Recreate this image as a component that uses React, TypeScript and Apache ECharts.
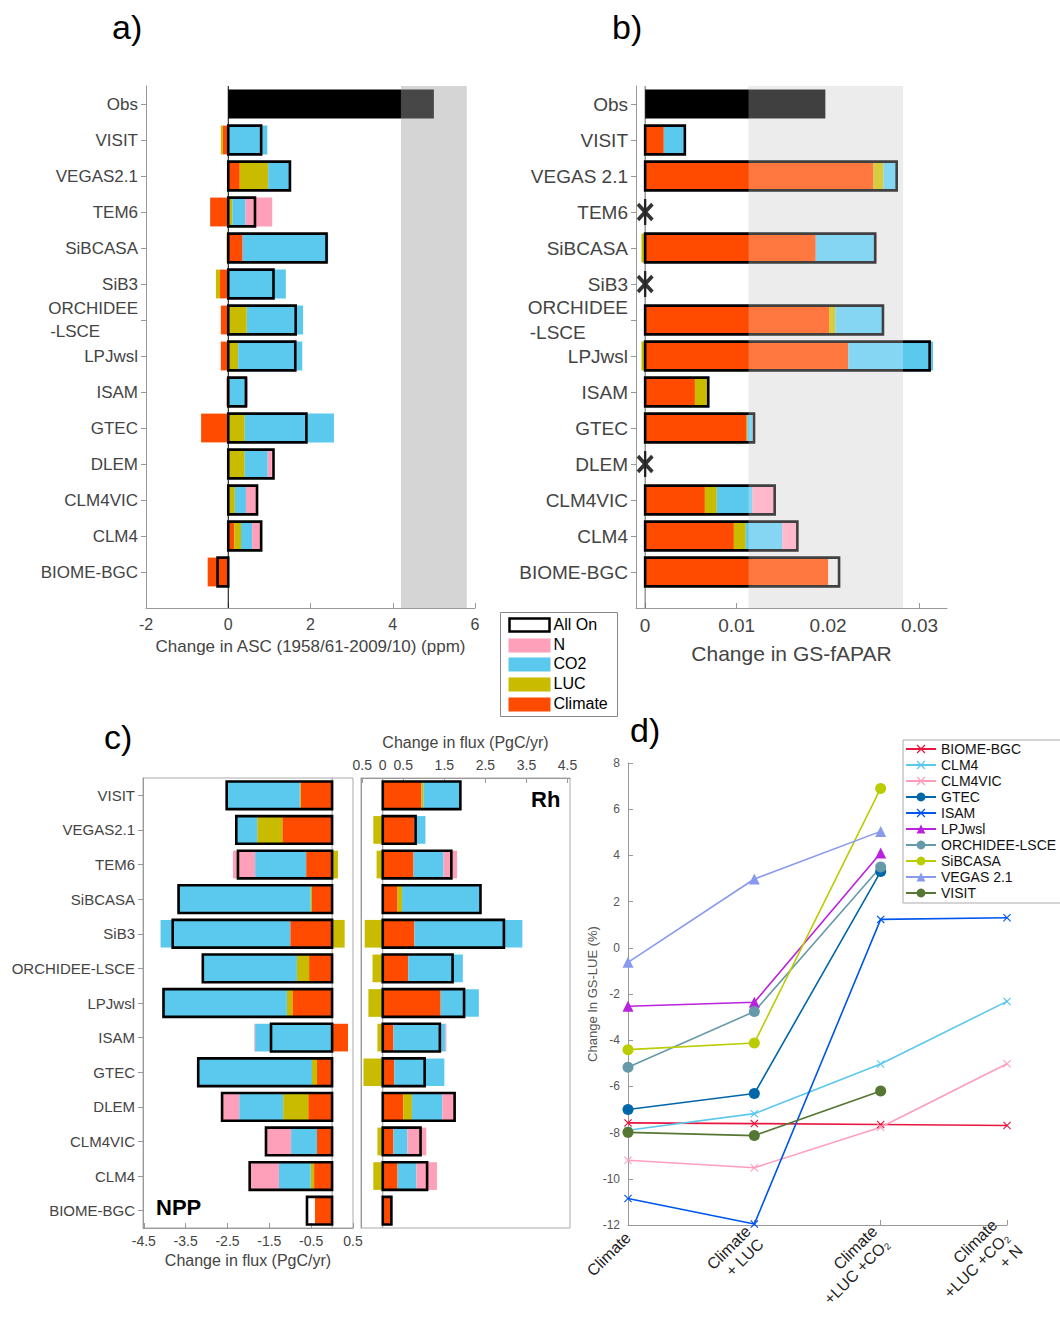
import React, { useEffect, useRef } from 'react';
import * as echarts from 'echarts';

const labelsA = ['Obs', 'VISIT', 'VEGAS2.1', 'TEM6', 'SiBCASA', 'SiB3', 'ORCHIDEE\n-LSCE        ', 'LPJwsl', 'ISAM', 'GTEC', 'DLEM', 'CLM4VIC', 'CLM4', 'BIOME-BGC'];
const labelsB = ['Obs', 'VISIT', 'VEGAS 2.1', 'TEM6', 'SiBCASA', 'SiB3', 'ORCHIDEE\n-LSCE        ', 'LPJwsl', 'ISAM', 'GTEC', 'DLEM', 'CLM4VIC', 'CLM4', 'BIOME-BGC'];
const labelsC = ['VISIT', 'VEGAS2.1', 'TEM6', 'SiBCASA', 'SiB3', 'ORCHIDEE-LSCE', 'LPJwsl', 'ISAM', 'GTEC', 'DLEM', 'CLM4VIC', 'CLM4', 'BIOME-BGC'];

// a) ASC (ppm)
const obsA = 5.0;
const bandA = [4.2, 5.8];
const climateA = [-0.13, 0.28, -0.44, 0.35, -0.2, -0.18, -0.18, -0.04, -0.66, -0.02, 0, 0.15, -0.5];
const lucA = [-0.05, 0.69, 0.1, -0.04, -0.1, 0.45, 0.24, 0, 0.4, 0.4, 0.16, 0.16, 0];
const co2A = [0.95, 0.52, 0.32, 2.08, 1.4, 1.37, 1.56, 0.45, 2.17, 0.56, 0.27, 0.27, 0];
const nA = [0, 0, 0.65, 0, 0, 0, 0, 0.03, 0, 0.1, 0.26, 0.23, 0];
const allOnA = [0.8, 1.5, 0.65, 2.39, 1.1, 1.64, 1.63, 0.43, 1.9, 1.1, 0.7, 0.8, -0.26];

// b) GS-fAPAR
const obsB = 0.0197;
const bandB = [0.0113, 0.0282];
const climateB = [0.00204, 0.02496, null, 0.01865, null, 0.0201, 0.0222, 0.00544, 0.0111, null, 0.00653, 0.0097, 0.02];
const lucB = [0, 0.0011, null, -0.0004, null, 0.0007, -0.0004, 0.00135, 0.0001, null, 0.0013, 0.0013, 0];
const co2B = [0.00219, 0.00139, null, 0.00639, null, 0.0051, 0.00927, 0, 0.0005, null, 0.0039, 0.004, 0];
const nB = [0, 0, null, 0.0003, null, 0, 0, 0, 0, null, 0.00234, 0.00153, 0];
const allOnB = [0.00434, 0.0275, null, 0.02515, null, 0.026, 0.0311, 0.0069, 0.0119, null, 0.01416, 0.01664, 0.0212];

// c) NPP and Rh (PgC/yr)
const climateNpp = [-0.75, -1.19, -0.62, -0.48, -1.0, -0.55, -0.95, 0.38, -0.36, -0.57, -0.36, -0.43, -0.41];
const lucNpp = [-0.02, -0.6, 0.14, -0.03, 0.3, -0.29, -0.13, 0, -0.12, -0.6, 0, -0.08, 0];
const co2Npp = [-1.75, -0.5, -1.22, -3.16, -3.1, -2.25, -2.97, -1.84, -2.72, -1.05, -0.62, -0.76, 0];
const nNpp = [0, 0, -0.53, 0, 0, 0, 0, -0.02, 0, -0.4, -0.6, -0.69, 0];
const allOnNpp = [-2.52, -2.29, -2.25, -3.67, -3.81, -3.09, -4.03, -1.46, -3.2, -2.63, -1.58, -1.97, -0.6];
const climateRh = [0.94, 0.76, 0.75, 0.36, 0.77, 0.62, 1.41, 0.26, 0.28, 0.5, 0.26, 0.36, 0.2];
const lucRh = [0.05, -0.23, -0.15, 0.11, -0.44, -0.25, -0.35, -0.13, -0.47, 0.21, -0.13, -0.23, 0];
const co2Rh = [0.9, 0.28, 0.73, 1.91, 2.63, 1.33, 0.93, 1.27, 1.22, 0.74, 0.34, 0.46, 0];
const nRh = [0, 0, 0.33, 0, 0, 0, 0, 0.02, 0, 0.29, 0.46, 0.5, 0];
const allOnRh = [1.89, 0.8, 1.67, 2.38, 2.95, 1.7, 1.98, 1.39, 1.02, 1.75, 0.92, 1.08, 0.21];

// d) GS-LUE (%)
const stepsD = ['Climate', 'Climate\n+ LUC', 'Climate\n+LUC +CO₂', 'Climate\n+LUC +CO₂\n+ N'];
const modelsD = ['BIOME-BGC', 'CLM4', 'CLM4VIC', 'GTEC', 'ISAM', 'LPJwsl', 'ORCHIDEE-LSCE', 'SiBCASA', 'VEGAS 2.1', 'VISIT'];
const lueD = [
  [-7.58, -7.61, -7.65, -7.69],
  [-7.9, -7.18, -5.03, -2.32],
  [-9.2, -9.52, -7.77, -5.02],
  [-7.0, -6.31, 3.3, null],
  [-10.85, -11.96, 1.23, 1.3],
  [-2.53, -2.36, 4.1, null],
  [-5.17, -2.76, 3.5, null],
  [-4.41, -4.12, 6.9, null],
  [-0.63, 2.98, 5.04, null],
  [-7.99, -8.13, -6.2, null],
];
const colorsD = ['#e8173f', '#5bc8ee', '#ff9ebb', '#0066aa', '#0055ee', '#bb22dd', '#6699aa', '#bbcc00', '#8899ee', '#557733'];

const CROSS = 'path://M0,1L1,0L5,4L9,0L10,1L6,5L10,9L9,10L5,6L1,10L0,9L4,5Z';
const STAR = 'path://M0,3.5L1.5,2L5,5.5L8.5,2L10,3.5L6.5,7L10,10.5L8.5,12L5,8.5L1.5,12L0,10.5L3.5,7ZM4.3,0H5.7V14H4.3Z';
const symD = ['cross', 'cross', 'cross', 'circle', 'cross', 'triangle', 'circle', 'circle', 'triangle', 'circle'];

const FILL = ['#ff4b00', '#c8bb00', '#5bc8ee', '#ffa0bb', '#000000', '#474747'];
const FONT = 'Liberation Sans';

// stack climate, luc, co2, n: positive parts to the right, negative to the left
function segments(parts: (number | null)[][], rowOffset: number) {
  const out: number[][] = [];
  parts[0].forEach((_, i) => {
    let pos = 0;
    let neg = 0;
    parts.forEach((arr, k) => {
      const v = arr[i];
      if (v == null || v === 0) return;
      if (v > 0) { out.push([pos, pos + v, i + rowOffset, k]); pos += v; }
      else { out.push([neg, neg + v, i + rowOffset, k]); neg += v; }
    });
  });
  return out;
}

const barRender = (frac: number) => (params: any, api: any) => {
  const s = api.coord([api.value(0), api.value(2)]);
  const e = api.coord([api.value(1), api.value(2)]);
  const h = api.size([0, 1])[1] * frac;
  return {
    type: 'rect',
    shape: { x: Math.min(s[0], e[0]), y: s[1] - h / 2, width: Math.abs(e[0] - s[0]), height: h },
    style: { fill: FILL[api.value(3)] },
  };
};

const outlineRender = (frac: number) => (params: any, api: any) => {
  const s = api.coord([0, api.value(1)]);
  const e = api.coord([api.value(0), api.value(1)]);
  const h = api.size([0, 1])[1] * frac;
  return {
    type: 'rect',
    shape: { x: Math.min(s[0], e[0]), y: s[1] - h / 2, width: Math.abs(e[0] - s[0]), height: h },
    style: { fill: 'none', stroke: '#000', lineWidth: 2.6 },
  };
};

const bandRender = (color: string, zeroColor: string | null) => (params: any, api: any) => {
  const cs = params.coordSys;
  const x0 = api.coord([api.value(0), 0])[0];
  const x1 = api.coord([api.value(1), 0])[0];
  const children: any[] = [];
  if (x1 > x0) children.push({ type: 'rect', shape: { x: x0, y: cs.y, width: x1 - x0, height: cs.height }, style: { fill: color } });
  if (zeroColor) {
    const z = api.coord([0, 0])[0];
    children.push({ type: 'line', shape: { x1: z, y1: cs.y, x2: z, y2: cs.y + cs.height }, style: { stroke: zeroColor, lineWidth: 1 } });
  }
  return { type: 'group', children };
};

const App: React.FC = () => {
  const chartRef = useRef<HTMLDivElement>(null);

  useEffect(() => {
    if (!chartRef.current) return;
    const chart = echarts.init(chartRef.current, null, { renderer: 'svg' });

    const rowsAB = labelsA.map((_, i) => i);
    const rowsC = labelsC.map((_, i) => i);
    const segA = segments([climateA, lucA, co2A, nA], 1);
    segA.push([0, bandA[0], 0, 4], [bandA[0], obsA, 0, 5]);
    const segB = segments([climateB, lucB, co2B, nB], 1);
    segB.push([0, obsB, 0, 4]);
    const segNpp = segments([climateNpp, lucNpp, co2Npp, nNpp], 0);
    const segRh = segments([climateRh, lucRh, co2Rh, nRh], 0);
    const outline = (arr: (number | null)[], off: number) =>
      arr.map((v, i) => [v, i + off]).filter((d) => d[0] != null);
    const stars = allOnB.map((v, i) => [0, i + 1, v]).filter((d) => d[2] == null).map((d) => [d[0], d[1]]);

    const axisGray = { onZero: false, lineStyle: { color: '#999' } };
    const catAxis = (grid: number, labels: string[], rows: number[], max: number, size: number) => ({
      type: 'value', gridIndex: grid, inverse: true, min: -0.5, max,
      axisLine: { show: true, ...axisGray },
      splitLine: { show: false },
      axisTick: { show: true, customValues: rows, length: 5, lineStyle: { color: '#999' } },
      axisLabel: {
        customValues: rows, formatter: (v: number) => labels[Math.round(v)],
        fontFamily: FONT, fontSize: size, color: '#444', margin: 8, lineHeight: size + 6,
      },
    });

    const option: any = {
      animation: false,
      textStyle: { fontFamily: FONT },
      grid: [
        { left: 146, top: 86, width: 329, height: 522 },
        { left: 636, top: 86, width: 311, height: 522 },
        { left: 143, top: 778, width: 210, height: 450, show: true, borderColor: '#aaa', borderWidth: 1 },
        { left: 361, top: 778, width: 209, height: 450, show: true, borderColor: '#aaa', borderWidth: 1 },
        { left: 628, top: 763, width: 379, height: 462 },
      ],
      xAxis: [
        {
          type: 'value', gridIndex: 0, min: -2, max: 6, interval: 2, splitLine: { show: false },
          axisLine: axisGray, axisTick: { show: true, inside: true, lineStyle: { color: '#999' } },
          axisLabel: { fontSize: 16, color: '#444', margin: 8 },
          name: 'Change in ASC (1958/61-2009/10) (ppm)', nameLocation: 'middle', nameGap: 30,
          nameTextStyle: { fontSize: 17, color: '#444' },
        },
        {
          type: 'value', gridIndex: 1, min: -0.001, max: 0.033, splitLine: { show: false },
          axisLine: axisGray,
          axisTick: { show: true, inside: true, customValues: [0, 0.01, 0.02, 0.03], lineStyle: { color: '#999' } },
          axisLabel: { customValues: [0, 0.01, 0.02, 0.03], formatter: (v: number) => (v === 0 ? '0' : v.toFixed(2)), fontSize: 19, color: '#444', margin: 8 },
          name: 'Change in GS-fAPAR', nameLocation: 'middle', nameGap: 35,
          nameTextStyle: { fontSize: 21, color: '#444' },
        },
        {
          type: 'value', gridIndex: 2, min: -4.52, max: 0.5, splitLine: { show: false },
          axisLine: axisGray,
          axisTick: { show: true, inside: true, customValues: [-4.5, -3.5, -2.5, -1.5, -0.5, 0.5], lineStyle: { color: '#999' } },
          axisLabel: { customValues: [-4.5, -3.5, -2.5, -1.5, -0.5, 0.5], fontSize: 14, color: '#444', margin: 6 },
          name: 'Change in flux (PgC/yr)', nameLocation: 'middle', nameGap: 24,
          nameTextStyle: { fontSize: 16, color: '#444' },
        },
        {
          type: 'value', gridIndex: 3, position: 'top', min: -0.53, max: 4.56, splitLine: { show: false },
          axisLine: axisGray,
          axisTick: { show: true, inside: true, customValues: [-0.5, 0.5, 1.5, 2.5, 3.5, 4.5], lineStyle: { color: '#999' } },
          axisLabel: {
            customValues: [-0.5, 0, 0.5, 1.5, 2.5, 3.5, 4.5], formatter: (v: number) => String(Math.abs(v)),
            fontSize: 14, color: '#444', margin: 6,
          },
          name: 'Change in flux (PgC/yr)', nameLocation: 'middle', nameGap: 28,
          nameTextStyle: { fontSize: 16, color: '#444' },
        },
        {
          type: 'category', gridIndex: 4, data: stepsD, boundaryGap: false,
          axisLine: axisGray, axisTick: { inside: true, lineStyle: { color: '#999' } },
          axisLabel: { rotate: 45, fontSize: 16, color: '#222', lineHeight: 18, margin: 10 },
        },
      ],
      yAxis: [
        catAxis(0, labelsA, rowsAB, 14, 17),
        catAxis(1, labelsB, rowsAB, 14, 19),
        catAxis(2, labelsC, rowsC, 12.5, 15),
        { ...catAxis(3, labelsC, rowsC, 12.5, 15), axisLabel: { show: false }, axisTick: { show: false } },
        {
          type: 'value', gridIndex: 4, min: -12, max: 8, interval: 2, splitLine: { show: false },
          axisLine: { show: true, ...axisGray }, axisTick: { show: true, inside: true, lineStyle: { color: '#999' } },
          axisLabel: { fontSize: 12, color: '#555' },
          name: 'Change In GS-LUE (%)', nameLocation: 'middle', nameGap: 26, nameRotate: 90,
          nameTextStyle: { fontSize: 13, color: '#555' },
        },
      ],
      legend: {
        data: modelsD, orient: 'vertical', left: 903, top: 740, itemWidth: 30, itemHeight: 11, itemGap: 2,
        borderColor: '#aaa', borderWidth: 1, padding: [2, 6, 3, 2], backgroundColor: '#fff',
        textStyle: { fontSize: 14, lineHeight: 14, color: '#111', fontFamily: FONT },
      },
      series: [
        // a
        { type: 'custom', xAxisIndex: 0, yAxisIndex: 0, z: 1, data: [bandA], renderItem: bandRender('#d5d5d5', '#000'), silent: true },
        { type: 'custom', xAxisIndex: 0, yAxisIndex: 0, z: 2, data: segA, renderItem: barRender(0.8), encode: { x: [0, 1], y: 2 } },
        { type: 'custom', xAxisIndex: 0, yAxisIndex: 0, z: 3, data: outline(allOnA, 1), renderItem: outlineRender(0.8), encode: { x: 0, y: 1 } },
        // b
        { type: 'custom', xAxisIndex: 1, yAxisIndex: 1, z: 1, data: [bandB], renderItem: bandRender('#e6e6e6', '#666'), silent: true },
        { type: 'custom', xAxisIndex: 1, yAxisIndex: 1, z: 2, data: segB, renderItem: barRender(0.8), encode: { x: [0, 1], y: 2 } },
        { type: 'custom', xAxisIndex: 1, yAxisIndex: 1, z: 3, data: outline(allOnB, 1), renderItem: outlineRender(0.8), encode: { x: 0, y: 1 } },
        { type: 'custom', xAxisIndex: 1, yAxisIndex: 1, z: 4, data: [bandB], renderItem: bandRender('rgba(255,255,255,0.25)', null), silent: true },
        { type: 'scatter', xAxisIndex: 1, yAxisIndex: 1, z: 5, data: stars, symbol: STAR, symbolSize: [17, 26], itemStyle: { color: '#000' } },
        // c NPP
        { type: 'custom', xAxisIndex: 2, yAxisIndex: 2, z: 1, data: [[0, 0]], renderItem: bandRender('#fff', '#999'), silent: true },
        { type: 'custom', xAxisIndex: 2, yAxisIndex: 2, z: 2, data: segNpp, renderItem: barRender(0.8), encode: { x: [0, 1], y: 2 } },
        { type: 'custom', xAxisIndex: 2, yAxisIndex: 2, z: 3, data: outline(allOnNpp, 0), renderItem: outlineRender(0.8), encode: { x: 0, y: 1 } },
        // c Rh
        { type: 'custom', xAxisIndex: 3, yAxisIndex: 3, z: 1, data: [[0, 0]], renderItem: bandRender('#fff', '#999'), silent: true },
        { type: 'custom', xAxisIndex: 3, yAxisIndex: 3, z: 2, data: segRh, renderItem: barRender(0.8), encode: { x: [0, 1], y: 2 } },
        { type: 'custom', xAxisIndex: 3, yAxisIndex: 3, z: 3, data: outline(allOnRh, 0), renderItem: outlineRender(0.8), encode: { x: 0, y: 1 } },
        // d
        ...modelsD.map((name, i) => ({
          type: 'line', name, xAxisIndex: 4, yAxisIndex: 4, data: lueD[i],
          symbol: symD[i] === 'cross' ? CROSS : symD[i], symbolSize: symD[i] === 'cross' ? 8 : 11,
          showSymbol: true, connectNulls: false,
          lineStyle: { color: colorsD[i], width: 1.6 }, itemStyle: { color: colorsD[i] },
        })),
      ],
      graphic: [
        { type: 'text', left: 112, top: 10, style: { text: 'a)', fontSize: 34, fill: '#000', fontFamily: FONT } },
        { type: 'text', left: 612, top: 10, style: { text: 'b)', fontSize: 34, fill: '#000', fontFamily: FONT } },
        { type: 'text', left: 104, top: 720, style: { text: 'c)', fontSize: 34, fill: '#000', fontFamily: FONT } },
        { type: 'text', left: 630, top: 713, style: { text: 'd)', fontSize: 34, fill: '#000', fontFamily: FONT } },
        { type: 'text', left: 156, top: 1196, style: { text: 'NPP', fontSize: 22, fontWeight: 'bold', fill: '#000', fontFamily: FONT } },
        { type: 'text', left: 531, top: 788, style: { text: 'Rh', fontSize: 22, fontWeight: 'bold', fill: '#000', fontFamily: FONT } },
        {
          type: 'group', left: 500, top: 612,
          children: [
            { type: 'rect', shape: { x: 0, y: 0, width: 117, height: 104 }, style: { fill: '#fff', stroke: '#888', lineWidth: 1 } },
            { type: 'rect', shape: { x: 9, y: 6, width: 40, height: 13 }, style: { fill: 'none', stroke: '#000', lineWidth: 2.5 } },
            { type: 'rect', shape: { x: 8, y: 26, width: 42, height: 14 }, style: { fill: FILL[3] } },
            { type: 'rect', shape: { x: 8, y: 45, width: 42, height: 14 }, style: { fill: FILL[2] } },
            { type: 'rect', shape: { x: 8, y: 65, width: 42, height: 14 }, style: { fill: FILL[1] } },
            { type: 'rect', shape: { x: 8, y: 85, width: 42, height: 14 }, style: { fill: FILL[0] } },
            { type: 'text', x: 53, y: 4, style: { text: 'All On', fontSize: 16, fill: '#000', fontFamily: FONT } },
            { type: 'text', x: 53, y: 24, style: { text: 'N', fontSize: 16, fill: '#000', fontFamily: FONT } },
            { type: 'text', x: 53, y: 43, style: { text: 'CO2', fontSize: 16, fill: '#000', fontFamily: FONT } },
            { type: 'text', x: 53, y: 63, style: { text: 'LUC', fontSize: 16, fill: '#000', fontFamily: FONT } },
            { type: 'text', x: 53, y: 83, style: { text: 'Climate', fontSize: 16, fill: '#000', fontFamily: FONT } },
          ],
        },
      ],
    };

    chart.setOption(option);
    return () => {
      chart.dispose();
    };
  }, []);

  return <div ref={chartRef} style={{ position: 'absolute', left: 0, top: 0, width: 1060, height: 1324 }} />;
};

export default App;
